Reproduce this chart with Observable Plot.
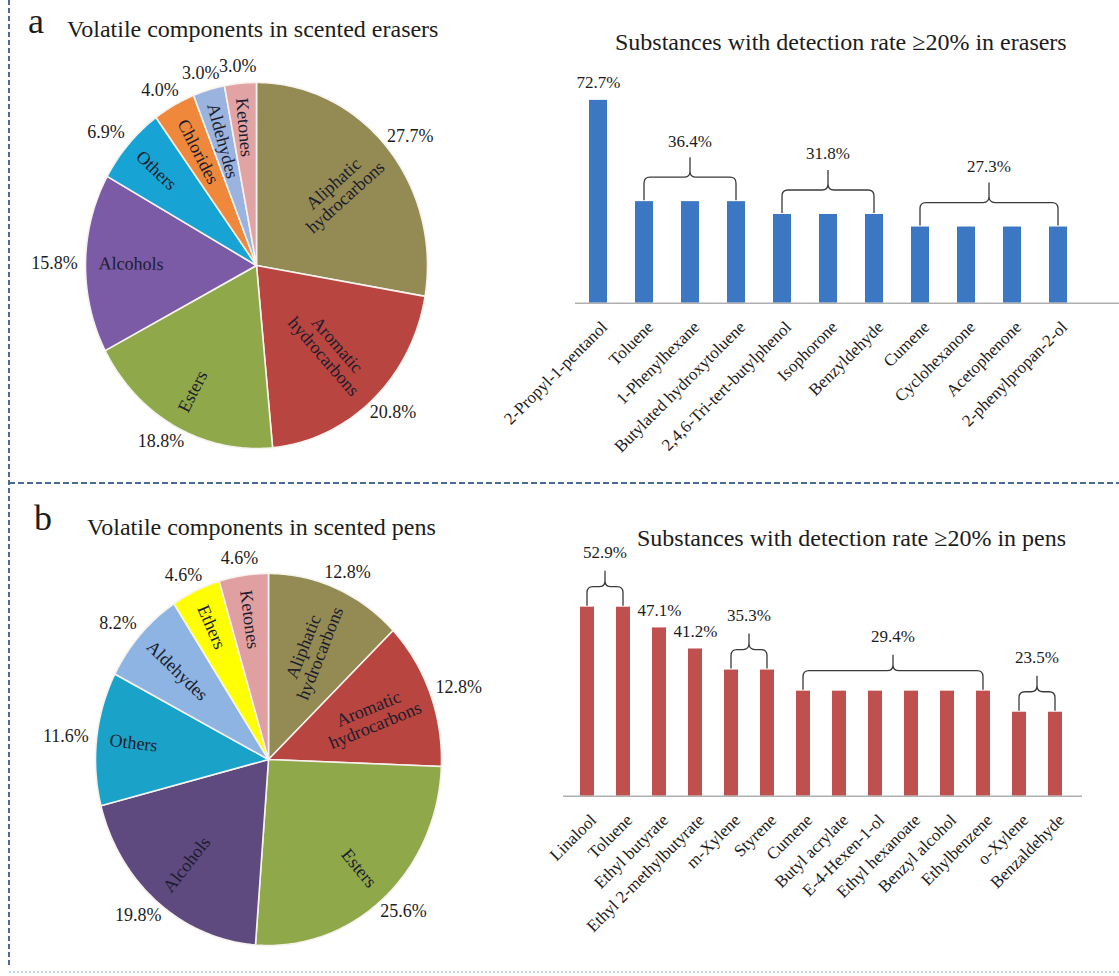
<!DOCTYPE html>
<html><head><meta charset="utf-8">
<script src="https://cdn.jsdelivr.net/npm/d3@7"></script>
<script src="https://cdn.jsdelivr.net/npm/@observablehq/plot@0.6"></script>
<style>
body{margin:0;background:#fff;}
#page{position:relative;width:1119px;height:976px;overflow:hidden;background:#fff;font-family:"Liberation Serif","Times New Roman",serif;color:#1c1c1c;}
.t{position:absolute;white-space:nowrap;line-height:1;}
.p{position:absolute;}
</style></head><body><div id="page"></div>
<script>
// ---------- data ----------
const eraserClasses = ["Aliphatic hydrocarbons","Aromatic hydrocarbons","Esters","Alcohols","Others","Chlorides","Aldehydes","Ketones"];
const eraserShares  = [27.7, 20.8, 18.8, 15.8, 6.9, 4.0, 3.0, 3.0];
const eraserColors  = ["#948a54","#b8453f","#8ea84a","#7b5aa6","#17a3d3","#f0883c","#9ab3df","#e2a3a5"];

const penClasses = ["Aliphatic hydrocarbons","Aromatic hydrocarbons","Esters","Alcohols","Others","Aldehydes","Ethers","Ketones"];
const penShares  = [12.8, 12.8, 25.6, 19.8, 11.6, 8.2, 4.6, 4.6];
const penColors  = ["#948a54","#b8453f","#8ea84a","#5e4a7e","#1aa2c9","#8db4e3","#ffff00","#e0a0a2"];

const eraserSubstances = ["2-Propyl-1-pentanol","Toluene","1-Phenylhexane","Butylated hydroxytoluene","2,4,6-Tri-tert-butylphenol","Isophorone","Benzyldehyde","Cumene","Cyclohexanone","Acetophenone","2-phenylpropan-2-ol"];
const eraserRates = [72.7, 36.4, 36.4, 36.4, 31.8, 31.8, 31.8, 27.3, 27.3, 27.3, 27.3];

const penSubstances = ["Linalool","Toluene","Ethyl butyrate","Ethyl 2-methylbutyrate","m-Xylene","Styrene","Cumene","Butyl acrylate","E-4-Hexen-1-ol","Ethyl hexanoate","Benzyl alcohol","Ethylbenzene","o-Xylene","Benzaldehyde"];
const penRates = [52.9, 52.9, 47.1, 41.2, 35.3, 35.3, 29.4, 29.4, 29.4, 29.4, 29.4, 29.4, 23.5, 23.5];

const titles = {
  a: "a", aPie: "Volatile components in scented erasers", aBar: "Substances with detection rate \u226520% in erasers",
  b: "b", bPie: "Volatile components in scented pens", bBar: "Substances with detection rate \u226520% in pens"
};

// ---------- helpers ----------
const FONT = "Liberation Serif, Times New Roman, serif";
const fmt = v => v.toFixed(1) + "%";
const page = document.getElementById("page");

function place(node, left, top) {
  node.classList.add("p");
  node.style.left = left + "px";
  node.style.top = top + "px";
  page.appendChild(node);
}
function title(text, left, baseline, size) {
  const d = document.createElement("div");
  d.className = "t";
  d.textContent = text;
  d.style.fontSize = size + "px";
  d.style.left = left + "px";
  d.style.top = (baseline - 0.8375 * size) + "px";
  page.appendChild(d);
}

function pieChart(classes, shares, colors, o) {
  const total = d3.sum(shares);
  let acc = 0;
  const slices = classes.map((name, i) => {
    const a0 = acc / total * 2 * Math.PI; acc += shares[i];
    const a1 = acc / total * 2 * Math.PI;
    return {name, share: shares[i], a0, a1, mid: (a0 + a1) / 2};
  });
  const pts = [];
  for (const s of slices) {
    pts.push({name: s.name, px: 0, py: 0});
    const n = Math.max(2, Math.ceil((s.a1 - s.a0) / (Math.PI / 180)));
    for (let k = 0; k <= n; k++) {
      const a = s.a0 + (s.a1 - s.a0) * k / n;
      pts.push({name: s.name, px: Math.sin(a), py: Math.cos(a)});
    }
    pts.push({name: s.name, px: 0, py: 0});
  }
  const R = (o.rx + o.ry) / 2;
  const inner = slices.map(s => {
    const label = s.name.replace(" ", "\n");
    const len = d3.max(label.split("\n"), l => l.length);
    const r = 0.93 - len * 4.35 / R;
    const ux = Math.sin(s.mid) * o.rx, uy = -Math.cos(s.mid) * o.ry;
    let rot = Math.atan2(uy, ux) * 180 / Math.PI;
    if (rot > 90) rot -= 180;
    if (rot < -90) rot += 180;
    return {label, x: r * Math.sin(s.mid), y: r * Math.cos(s.mid), rot};
  });
  const outer = slices.map(s => {
    const px = Math.sin(s.mid) * o.rx, py = -Math.cos(s.mid) * o.ry;
    const m = Math.hypot(px, py), ux = px / m, uy = py / m;
    const Lx = px + ux * 8 + ux * 23, Ly = py + uy * 8 + uy * 9;
    return {text: fmt(s.share), x: Lx / o.rx, y: -Ly / o.ry};
  });
  return Plot.plot({
    width: o.W, height: o.H, margin: 0,
    style: {background: "transparent", overflow: "visible", fontFamily: FONT},
    x: {domain: [-o.cx / o.rx, (o.W - o.cx) / o.rx], range: [0, o.W], axis: null},
    y: {domain: [-(o.H - o.cy) / o.ry, o.cy / o.ry], range: [o.H, 0], axis: null},
    color: {domain: classes, range: colors},
    marks: [
      Plot.line(pts, {x: "px", y: "py", z: "name", fill: "name", stroke: "#f6f2ee", strokeWidth: 1.6, strokeLinejoin: "round", curve: "linear"}),
      Plot.text(inner, {x: "x", y: "y", text: "label", rotate: "rot", fontSize: 18, lineHeight: 1.0, fill: "#1c1c2c"}),
      Plot.text(outer, {x: "x", y: "y", text: "text", fontSize: 18, fill: "#1c1c1c"})
    ]
  });
}

function bracketMark(groups, o) {
  return (index, scales) => {
    const x = scales.x, y = scales.y;
    const bw = x.bandwidth ? x.bandwidth() : 0;
    const g = d3.create("svg:g");
    for (const gr of groups) {
      const xl = x(gr.start) + bw / 2, xr = x(gr.end) + bw / 2, xm = (xl + xr) / 2;
      const y0 = y(gr.rate);
      const yb = y0 - 1, yh = y0 + o.hOff, ys = y0 + o.sOff, r = 6;
      const p = d3.path();
      p.moveTo(xl, yb); p.lineTo(xl, yh + r); p.quadraticCurveTo(xl, yh, xl + r, yh);
      p.lineTo(xm - r, yh); p.quadraticCurveTo(xm, yh, xm, yh - r); p.lineTo(xm, ys);
      p.moveTo(xm, yh - r); p.quadraticCurveTo(xm, yh, xm + r, yh);
      p.lineTo(xr - r, yh); p.quadraticCurveTo(xr, yh, xr, yh + r); p.lineTo(xr, yb);
      g.append("path").attr("d", p.toString()).attr("fill", "none").attr("stroke", "#3a3a3a").attr("stroke-width", 1.3);
      g.append("text").attr("x", xm).attr("y", y0 + o.lOff).attr("dy", "0.32em")
        .attr("text-anchor", "middle").attr("font-size", 17).attr("font-family", FONT).attr("fill", "#1c1c1c")
        .text(fmt(gr.rate));
    }
    return g.node();
  };
}

function barChart(names, rates, color, o) {
  const data = names.map((name, i) => ({name, rate: rates[i]}));
  const groups = [];
  data.forEach(d => {
    const g = groups[groups.length - 1];
    if (g && g.rate === d.rate) { g.end = d.name; g.n++; }
    else groups.push({rate: d.rate, start: d.name, end: d.name, n: 1});
  });
  const singles = groups.filter(g => g.n === 1).map(g => ({name: g.start, rate: g.rate}));
  const multi = groups.filter(g => g.n > 1);
  return Plot.plot({
    width: o.W, height: o.H, marginLeft: o.ml, marginRight: o.mr, marginTop: 0, marginBottom: 0,
    style: {background: "transparent", overflow: "visible", fontFamily: FONT},
    x: {domain: names, range: o.xRange, paddingInner: 0.6, paddingOuter: 0.3, axis: null},
    y: {domain: o.yDomain, range: o.yRange, axis: null},
    marks: [
      Plot.barY(data, {x: "name", y: "rate", fill: color}),
      Plot.ruleY([0], {stroke: "#b0b0b0", strokeWidth: 1.6}),
      Plot.text(data, {x: "name", y: 0, text: "name", rotate: -45, textAnchor: "end", dx: 6, dy: 21, fontSize: 17, fill: "#1c1c1c"}),
      Plot.text(singles, {x: "name", y: "rate", text: d => fmt(d.rate), dy: o.singleDy, fontSize: 17, fill: "#1c1c1c"}),
      bracketMark(multi, o)
    ]
  });
}

// ---------- borders ----------
const ns = "http://www.w3.org/2000/svg";
const deco = document.createElementNS(ns, "svg");
deco.setAttribute("width", 1119); deco.setAttribute("height", 976);
deco.innerHTML =
  '<line x1="9" y1="0" x2="9" y2="966" stroke="#4a6a9a" stroke-width="2" stroke-dasharray="5 3"/>' +
  '<line x1="9" y1="483" x2="1119" y2="483" stroke="#4a6a9a" stroke-width="2" stroke-dasharray="6 3"/>' +
  '<line x1="9" y1="972" x2="1119" y2="972" stroke="#c4d4ea" stroke-width="2" stroke-dasharray="2 2"/>';
place(deco, 0, 0);

// ---------- panel a ----------
title(titles.a, 28, 33, 36);
title(titles.aPie, 67, 37, 24);
title(titles.aBar, 615, 50, 24);
place(pieChart(eraserClasses, eraserShares, eraserColors, {W: 540, H: 425, cx: 256, cy: 210, rx: 171, ry: 183}), 0, 55);
place(barChart(eraserSubstances, eraserRates, "#3b77c2", {
  W: 559, H: 420, ml: 15, mr: 0,
  xRange: [13.85, 523.15], yDomain: [0, 80], yRange: [242.7, 242.7 - 80 * 2.79],
  singleDy: -18, hOff: -24, sOff: -44, lOff: -60
}), 560, 60);

// ---------- panel b ----------
title(titles.b, 34, 530, 36);
title(titles.bPie, 87, 535, 24);
title(titles.bBar, 637, 546, 24);
place(pieChart(penClasses, penShares, penColors, {W: 540, H: 430, cx: 268, cy: 214, rx: 173, ry: 186}), 0, 545);
place(barChart(penSubstances, penRates, "#c0504d", {
  W: 559, H: 430, ml: 3, mr: 37,
  xRange: [3.615, 518.385], yDomain: [0, 60], yRange: [250.7, 250.7 - 60 * 3.573],
  singleDy: -17, hOff: -20, sOff: -36, lOff: -54
}), 560, 545);
</script></body></html>
